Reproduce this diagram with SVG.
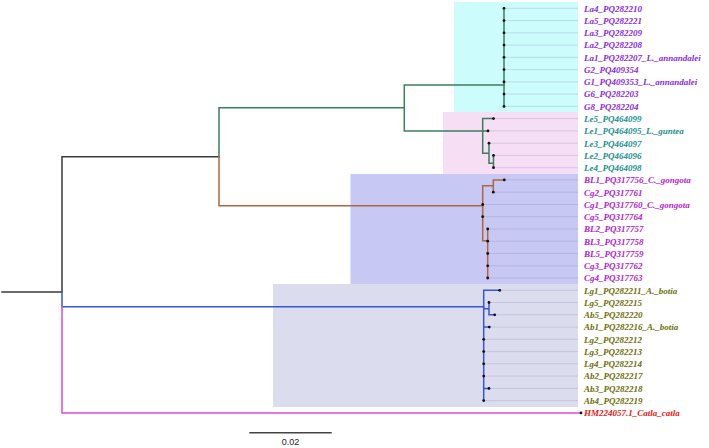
<svg xmlns="http://www.w3.org/2000/svg" width="709" height="448" viewBox="0 0 709 448">
<style>
.br{fill:none;stroke-width:1.5;stroke-linecap:square}
.k{stroke:#3a3a3a}.g{stroke:#3b7f5c}.o{stroke:#b1653f}.b{stroke:#3557d6}.m{stroke:#e048e0}
.gl{stroke:#7a7aa8;stroke-opacity:0.3;stroke-width:0.8}
.dot{fill:#111}
.lb{font-family:"Liberation Serif","Times New Roman",serif;font-weight:bold;font-style:italic;font-size:9px}
.c1{fill:#8a2be2}.c2{fill:#1b9090}.c3{fill:#b01cd4}.c4{fill:#6e6e08}.c5{fill:#ee1515}
</style>
<rect width="709" height="448" fill="#fff"/>
<g id="boxes">
<rect x="454" y="2" width="124" height="110" fill="#ccfcfc"/>
<rect x="443" y="112" width="135" height="62" fill="#f6def4"/>
<rect x="350.5" y="174" width="227.5" height="110" fill="#c8c8f4"/>
<rect x="273" y="284" width="305" height="123" fill="#dcdcef"/>
</g>
<g id="guides">
<path class="gl" d="M504 8.3H578M504 20.6H578M504 32.8H578M504 45.1H578M504 57.3H578M504 69.6H578M504 81.9H578M504 94.1H578M504 106.4H578M493.5 118.6H578M488 130.9H578M489 143.2H578M493.5 155.4H578M493.5 167.7H578M504.3 179.9H578M493.3 192.2H578M482.7 204.5H578M482.7 216.7H578M487.7 229H578M487.7 241.2H578M487.7 253.5H578M487.7 265.8H578M487.7 278H578M499.7 290.3H578M489 302.5H578M494.7 314.8H578M489.3 327.1H578M483.7 339.3H578M483.7 351.6H578M483.7 363.8H578M483.7 376.1H578M489 388.4H578M483.7 400.6H578"/>
</g>
<g id="connectors">
<path class="br k" d="M2 292H62M62 156.7V292M62 156.7H219"/>
<path class="br g" d="M219 156.7V107.7H404.3M404.3 85V130.9M404.3 85H504M404.3 130.9H482.7"/>
<path class="br o" d="M219 156.7V205.7H482.7"/>
<path class="br b" d="M62 292V306.7H483.7"/>
<path class="br m" d="M62 306.7V412.9H581"/>
<path class="br g" d="M504 8.3V106.4"/>
<path class="br g" d="M482.7 118.6V153.3M482.7 118.6H493.5M482.7 130.9H488M482.7 153.3H489M489 143.2V163.3M489 163.3H493.5M493.5 155.4V167.7"/>
<path class="br o" d="M482.7 185.7V240.7M482.7 185.7H493.3M493.3 179.9V192.2M493.3 179.9H504.3M482.7 240.7H487.7M487.7 229V278"/>
<path class="br b" d="M483.7 290.3V400.6M483.7 290.3H499.7M483.7 308.7H489M489 302.5V314.8M489 314.8H494.7M483.7 327.1H489.3M483.7 388.4H489"/>
</g>
<g id="dots" class="dot">
<circle cx="504" cy="8.3" r="1.4"/><circle cx="504" cy="20.6" r="1.4"/><circle cx="504" cy="32.8" r="1.4"/><circle cx="504" cy="45.1" r="1.4"/><circle cx="504" cy="57.3" r="1.4"/><circle cx="504" cy="69.6" r="1.4"/><circle cx="504" cy="81.9" r="1.4"/><circle cx="504" cy="94.1" r="1.4"/><circle cx="504" cy="106.4" r="1.4"/>
<circle cx="493.5" cy="118.6" r="1.4"/><circle cx="488" cy="130.9" r="1.4"/><circle cx="489" cy="143.2" r="1.4"/><circle cx="493.5" cy="155.4" r="1.4"/><circle cx="493.5" cy="167.7" r="1.4"/>
<circle cx="504.3" cy="179.9" r="1.4"/><circle cx="493.3" cy="192.2" r="1.4"/><circle cx="482.7" cy="204.5" r="1.4"/><circle cx="482.7" cy="216.7" r="1.4"/><circle cx="487.7" cy="229" r="1.4"/><circle cx="487.7" cy="241.2" r="1.4"/><circle cx="487.7" cy="253.5" r="1.4"/><circle cx="487.7" cy="265.8" r="1.4"/><circle cx="487.7" cy="278" r="1.4"/>
<circle cx="499.7" cy="290.3" r="1.4"/><circle cx="489" cy="302.5" r="1.4"/><circle cx="494.7" cy="314.8" r="1.4"/><circle cx="489.3" cy="327.1" r="1.4"/><circle cx="483.7" cy="339.3" r="1.4"/><circle cx="483.7" cy="351.6" r="1.4"/><circle cx="483.7" cy="363.8" r="1.4"/><circle cx="483.7" cy="376.1" r="1.4"/><circle cx="489" cy="388.4" r="1.4"/><circle cx="483.7" cy="400.6" r="1.4"/>
<circle cx="581" cy="412.9" r="1.4"/>
</g>
<g class="lb">
<g id="n-La4"><text class="c1" x="584" y="11.6">La4_PQ282210</text></g>
<g id="n-La5"><text class="c1" x="584" y="23.9">La5_PQ282221</text></g>
<g id="n-La3"><text class="c1" x="584" y="36.1">La3_PQ282209</text></g>
<g id="n-La2"><text class="c1" x="584" y="48.4">La2_PQ282208</text></g>
<g id="n-La1"><text class="c1" x="584" y="60.6">La1_PQ282207_L._annandalei</text></g>
<g id="n-G2"><text class="c1" x="584" y="72.9">G2_PQ409354</text></g>
<g id="n-G1"><text class="c1" x="584" y="85.2">G1_PQ409353_L._annandalei</text></g>
<g id="n-G6"><text class="c1" x="584" y="97.4">G6_PQ282203</text></g>
<g id="n-G8"><text class="c1" x="584" y="109.7">G8_PQ282204</text></g>
<g id="n-Le5"><text class="c2" x="584" y="121.9">Le5_PQ464099</text></g>
<g id="n-Le1"><text class="c2" x="584" y="134.2">Le1_PQ464095_L._guntea</text></g>
<g id="n-Le3"><text class="c2" x="584" y="146.5">Le3_PQ464097</text></g>
<g id="n-Le2"><text class="c2" x="584" y="158.7">Le2_PQ464096</text></g>
<g id="n-Le4"><text class="c2" x="584" y="171">Le4_PQ464098</text></g>
<g id="n-BL1"><text class="c3" x="584" y="183.2">BL1_PQ317756_C._gongota</text></g>
<g id="n-Cg2"><text class="c3" x="584" y="195.5">Cg2_PQ317761</text></g>
<g id="n-Cg1"><text class="c3" x="584" y="207.8">Cg1_PQ317760_C._gongota</text></g>
<g id="n-Cg5"><text class="c3" x="584" y="220">Cg5_PQ317764</text></g>
<g id="n-BL2"><text class="c3" x="584" y="232.3">BL2_PQ317757</text></g>
<g id="n-BL3"><text class="c3" x="584" y="244.5">BL3_PQ317758</text></g>
<g id="n-BL5"><text class="c3" x="584" y="256.8">BL5_PQ317759</text></g>
<g id="n-Cg3"><text class="c3" x="584" y="269.1">Cg3_PQ317762</text></g>
<g id="n-Cg4"><text class="c3" x="584" y="281.3">Cg4_PQ317763</text></g>
<g id="n-Lg1"><text class="c4" x="584" y="293.6">Lg1_PQ282211_A._botia</text></g>
<g id="n-Lg5"><text class="c4" x="584" y="305.8">Lg5_PQ282215</text></g>
<g id="n-Ab5"><text class="c4" x="584" y="318.1">Ab5_PQ282220</text></g>
<g id="n-Ab1"><text class="c4" x="584" y="330.4">Ab1_PQ282216_A._botia</text></g>
<g id="n-Lg2"><text class="c4" x="584" y="342.6">Lg2_PQ282212</text></g>
<g id="n-Lg3"><text class="c4" x="584" y="354.9">Lg3_PQ282213</text></g>
<g id="n-Lg4"><text class="c4" x="584" y="367.1">Lg4_PQ282214</text></g>
<g id="n-Ab2"><text class="c4" x="584" y="379.4">Ab2_PQ282217</text></g>
<g id="n-Ab3"><text class="c4" x="584" y="391.7">Ab3_PQ282218</text></g>
<g id="n-Ab4"><text class="c4" x="584" y="403.9">Ab4_PQ282219</text></g>
<g id="n-HM"><text class="c5" x="584" y="416.2">HM224057.1_Catla_catla</text></g>
</g>
<g id="scale">
<path d="M249.3 432.7H331.7" stroke="#444" stroke-width="1.5"/>
<text x="290.5" y="445" text-anchor="middle" font-family="Liberation Sans, Arial, sans-serif" font-size="9" fill="#222">0.02</text>
</g>
</svg>
